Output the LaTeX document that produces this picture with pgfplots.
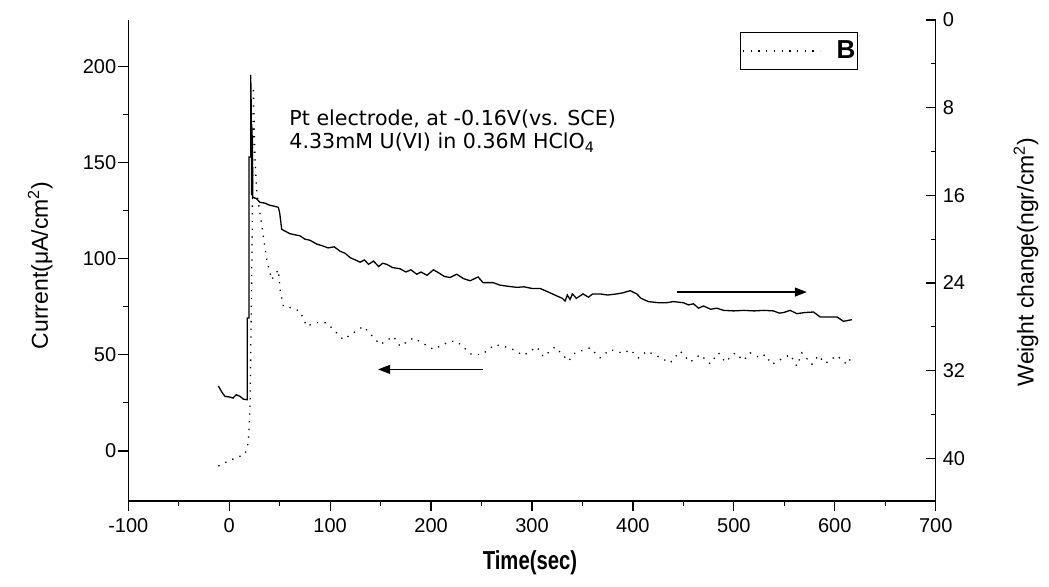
\documentclass[border=0pt]{standalone}
\usepackage{fontspec}
\setmainfont{Liberation Sans}
\newfontfamily\annfont{DejaVu Sans}
\usepackage{graphicx}
\usepackage{pgfplots}
\pgfplotsset{compat=1.18}
\usetikzlibrary{arrows.meta}

\pgfplotsset{
  qcm/.style={
    width=403.7pt, height=240.5pt, scale only axis,
    at={(0pt,0pt)}, anchor=south west,
    xmin=-100, xmax=700,
    xtick={-100,0,...,700}, minor x tick num=1,
    axis line style={line width=0.75pt},
    tick style={line width=0.6pt, black},
    major tick length=5pt, minor tick length=2.5pt,
    tick label style={font=\fontsize{10}{12}\selectfont},
    /pgf/number format/assume math mode=true,
    label style={font=\fontsize{11.5}{13}\selectfont},
  },
}

\begin{document}
\begin{tikzpicture}
\path[use as bounding box] (-64.15pt,-42.5pt) rectangle (460.35pt,250.5pt);

% current (left axis, dotted)
\begin{axis}[qcm,
  axis x line*=bottom, axis y line*=left, tick align=outside,
  ymin=-26, ymax=224, ytick={0,50,...,200}, minor y tick num=1,
  yticklabel style={xshift=2.5pt},
  xlabel={\scalebox{0.78}[1]{Time(sec)}},
  xlabel style={at={(axis description cs:0.4975,-0.1289)}, anchor=center,
                font=\bfseries\fontsize{13}{15}\selectfont},
  ylabel={Current(μA/cm\textsuperscript{2})},
  ylabel style={at={(axis description cs:-0.109,0.49)}, anchor=center},
  legend style={at={(axis description cs:0.9038,0.975)}, anchor=north east,
                draw=black, line width=0.6pt, inner xsep=1pt, inner ysep=4pt,
                nodes={inner sep=0pt}},
  legend image code/.code={\draw[#1] (0pt,0pt) -- (38.5pt,0pt);},
]
\addplot[black, line width=0.65pt, dash pattern=on 0.65pt off 3.2pt] coordinates {
  (-10.8,-7.8)(-0.9,-5.2)(7.4,-3.4)(15.7,-1.7)(18.9,4.4)(20.6,21.6)(22.6,104.6)
  (23.9,189.3)(25.6,151.3)(27.3,134.0)(30.5,123.6)(33.8,111.5)(37.2,99.4)
  (42.1,89.0)(48.7,94.2)(50.4,83.8)(53.6,75.2)(61.9,74.4)(70.2,72.6)(76.8,64.8)
  (85,66.6)(96.6,66.6)(113.1,57.9)(132.9,64.8)(149.5,55.3)(162.6,59.6)
  (169.3,54.4)(182.5,58.8)(202.3,52.8)(218.8,57.0)(225.5,57.0)(240.3,50.1)
  (250.2,50.1)(263.4,55.3)(278.3,53.6)(291.5,49.6)(304.8,54.1)(311.3,49.0)
  (322.9,54.1)(336.1,46.7)(342.7,51.0)(357.6,53.6)(367.5,48.4)(377.4,52.7)
  (390.6,50.7)(397.2,52.7)(405.5,48.4)(413.8,51.9)(425.3,49.0)(436.9,45.8)
  (446.8,51.9)(456.7,46.2)(466.6,50.1)(476.5,45.3)(484.7,51.0)(491.4,46.2)
  (501.3,51.0)(509.5,47.0)(516.1,51.0)(526,48.4)(531,50.1)(537.7,45.0)
  (549.2,48.4)(555.8,50.1)(562.4,44.1)(567.4,51.0)(577.3,45.0)(583.8,49.6)
  (590.5,45.5)(602.1,49.6)(612,45.0)(617,49.0)
};
\addlegendentry{\hspace{8pt}\bfseries\fontsize{13}{14}\selectfont B\hspace{5pt}}
\draw[line width=0.6pt, -{Triangle[length=6pt,width=4.5pt]}]
  (axis cs:251.5,42.4) -- (axis cs:147.5,42.4);
\draw[line width=0.6pt, -{Triangle[length=6pt,width=4.5pt]}]
  (axis cs:443.5,82.6) -- (axis cs:572.3,82.6);
\node[anchor=north west, inner sep=0pt, align=left,
      font=\annfont\fontsize{10.3}{11.5}\selectfont]
  at (axis cs:59.3,177.5)
  {Pt electrode, at -0.16V(vs. SCE)\\4.33mM U(VI) in 0.36M HClO\textsubscript{4}};
\end{axis}

% weight change (right axis, solid, reversed)
\begin{axis}[qcm,
  axis x line=none, axis y line*=right, tick align=inside,
  y dir=reverse, ymin=0, ymax=43.9, ytick={0,8,...,40}, minor y tick num=1,
  ylabel={Weight change(ngr/cm\textsuperscript{2})},
  ylabel style={at={(axis description cs:1.1118,0.497)}, anchor=center},
]
\addplot[black, line width=0.65pt] coordinates {
  (-10.8,33.4)(-7,34.0)(-4.2,34.35)(0,34.4)(3.8,34.5)(7,34.2)(10.7,34.35)
  (14,34.6)(17.3,34.65)(17.9,34.65)(17.9,27.2)(19.6,27.2)(19.6,12.5)(21.3,12.5)
  (21.3,5.0)(21.8,8.0)(22.1,16.0)(22.4,9.5)(22.7,15.5)(23.0,10.5)(23.3,16.2)
  (23.9,16.2)(27,16.3)(30.5,16.65)(35,16.7)(40,16.9)(45,17.0)(48.7,17.1)
  (50,17.6)(52,19.1)(56,19.3)(60,19.5)(65,19.6)(70.2,19.7)(75,20.0)(80,20.1)
  (86.7,20.45)(92,20.6)(98,20.8)(104,20.7)(109.8,21.1)(115,21.3)(120,21.7)
  (125,21.9)(129.6,22.1)(134,21.9)(138,22.3)(143,22.0)(148,22.5)(152,22.2)
  (156.1,22.3)(162,22.6)(169.3,22.7)(175,23.0)(180,22.8)(185.8,23.2)(190,23.0)
  (196,23.3)(202.3,22.8)(208,23.1)(213,23.4)(218.8,23.5)(225.5,23.2)(232,23.6)
  (238.7,23.8)(246.6,23.45)(251.5,23.97)(261.5,23.97)(268.4,24.2)(276,24.3)
  (285,24.4)(292,24.35)(300,24.5)(308,24.5)(317.9,24.9)(325,25.2)(330,25.4)
  (332.8,25.65)(335,25.1)(337.7,25.5)(340,25.0)(344,25.4)(350.6,25.0)(356,25.3)
  (360,25.0)(367.5,25.0)(375,25.1)(384,25.0)(390,24.9)(397.2,24.7)(403.9,25.0)
  (408,25.4)(415.4,25.7)(425,25.8)(433.6,25.8)(440,25.7)(450,25.8)(455,26.0)
  (460,25.9)(465,26.3)(470,26.1)(477,26.4)(483,26.3)(490,26.5)(499.6,26.55)
  (510,26.5)(520,26.55)(530,26.5)(539.3,26.55)(545,26.75)(549.2,26.7)
  (555.8,26.5)(562.4,26.8)(570,26.7)(578.9,26.65)(585.5,27.1)(595,27.1)
  (602.1,27.1)(608.6,27.5)(617,27.35)
};
\end{axis}
\end{tikzpicture}
\end{document}
